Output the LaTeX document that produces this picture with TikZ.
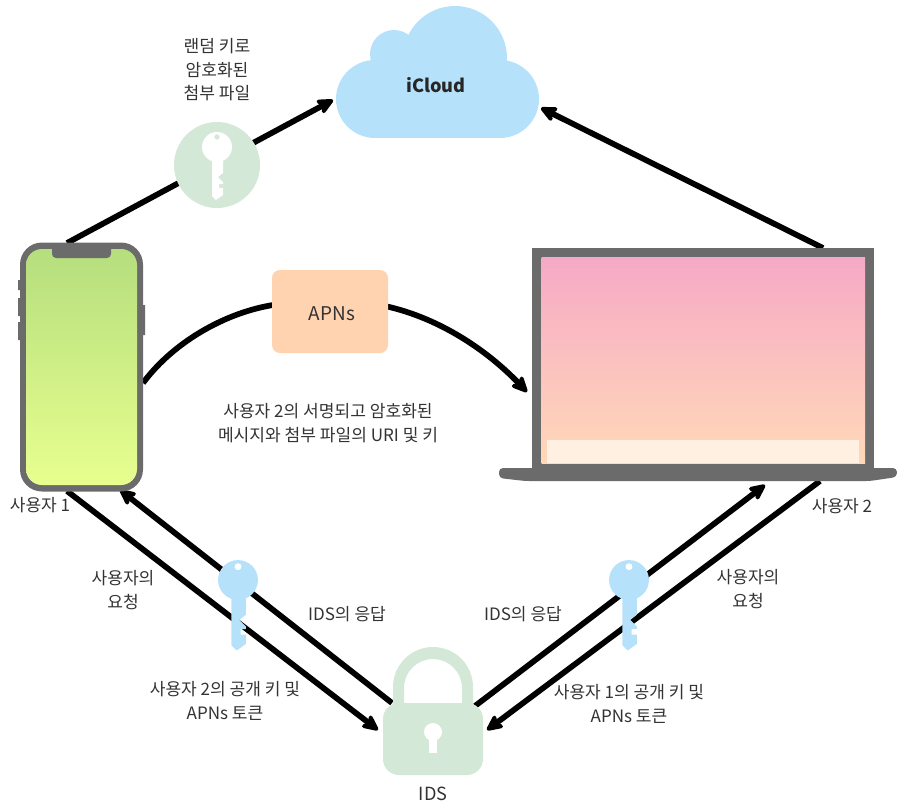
\documentclass[tikz,border=0pt]{standalone}
\usepackage{fontspec}
\setmainfont{Noto Sans CJK KR}
\usetikzlibrary{arrows.meta}
\definecolor{devgray}{HTML}{6B6B6B}
\definecolor{softgreen}{HTML}{D3E8D6}
\definecolor{softblue}{HTML}{B5E1FA}
\definecolor{softorange}{HTML}{FFD3B0}
\definecolor{labelgray}{HTML}{333333}
\definecolor{phonetop}{HTML}{B5DE7E}
\definecolor{phonebot}{HTML}{E8FF8F}
\definecolor{laptoptop}{HTML}{F6A9C6}
\definecolor{laptopbot}{HTML}{FFD9B8}
\definecolor{laptopbar}{HTML}{FFF0E2}
\tikzset{
  conn/.style={line width=4.3pt,black},
  arrowconn/.style={conn,-{Stealth[length=15pt,width=14pt,inset=3.5pt,round]}},
  lbl/.style={text=labelgray,font=\fontsize{12.8}{17.6}\selectfont,align=center,inner sep=0pt},
  box/.style={inner sep=0pt,outer sep=0pt,draw=none},
  pics/keyicon/.style 2 args={code={
    \fill[#1] (0,0) circle (15);
    \fill[#1] (-5,5) -- (6,5) -- (6,26) -- (1,30) -- (6,35) -- (6,37) -- (2,37) -- (2,41) -- (6,41) -- (6,48) -- (-1,53) -- (-5,49) -- cycle;
    \fill[#2] (0,-10) circle (2.6);
  }}
}
\begin{document}
\begin{tikzpicture}[x=0.75pt,y=-0.75pt]
\useasboundingbox (0,0) rectangle (897,804);
% anchors of connectors
\coordinate (phoneTop) at (67,243);
\coordinate (cloudLeft) at (333,100);
\coordinate (cloudRight) at (541,108);
\coordinate (laptopTop) at (823,248);
\coordinate (phoneSide) at (143,383);
\coordinate (apnsIn) at (280,304);
\coordinate (apnsOut) at (380,305);
\coordinate (laptopSide) at (527,392);
\coordinate (phoneBotA) at (67,491);
\coordinate (phoneBotB) at (120,490);
\coordinate (idsLeftIn) at (378,730);
\coordinate (idsLeftOut) at (392,703);
\coordinate (idsRightOut) at (475,706);
\coordinate (idsRightIn) at (487,730);
\coordinate (laptopBotA) at (765,485);
\coordinate (laptopBotB) at (820,481);
% connectors
\draw[arrowconn] (phoneTop) -- (cloudLeft);
\draw[arrowconn] (laptopTop) -- (cloudRight);
\draw[conn] (phoneSide) .. controls (175,340) and (230,310) .. (apnsIn);
\draw[arrowconn] (apnsOut) .. controls (437,316) and (487,350) .. (laptopSide);
\draw[arrowconn] (phoneBotA) -- (idsLeftIn);
\draw[arrowconn] (idsLeftOut) -- (phoneBotB);
\draw[arrowconn] (idsRightOut) -- (laptopBotA);
\draw[arrowconn] (laptopBotB) -- (idsRightIn);
% cloud
\fill[softblue] (375,99) circle (39) (500,99) circle (39) (455,58) circle (52) (394,54) circle (24);
\fill[softblue] (375,60) rectangle (500,138);
\node[lbl,font=\fontsize{13.6}{16}\selectfont\bfseries,text=black!85] (icloud) at (436,85) {iCloud};
% phone
\fill[devgray] (18,280) rectangle (21,290) (18,298) rectangle (21,316) (18,322) rectangle (21,340) (142,305) rectangle (145,335);
\node[box,fill=devgray,rounded corners=16.5pt,minimum width=92.25pt,minimum height=186.75pt] (phone) at (81.5,367) {};
\shade[top color=phonetop,bottom color=phonebot,rounded corners=12pt] (26,249) rectangle (137,485);
\fill[devgray,rounded corners=3pt] (52,245) rectangle (111,258);
% laptop
\fill[devgray] (532,248) rectangle (874,470);
\shade[top color=laptoptop,bottom color=laptopbot] (541.5,257) rectangle (865,463);
\fill[laptopbar] (547,440) rectangle (859,463);
\fill[devgray,rounded corners=3pt] (499,468) -- (897,468) -- (897,477) -- (870,481) -- (525,481) -- (499,478) -- cycle;
\node[box,minimum width=1pt,minimum height=1pt] (laptop) at (703,365) {};
% APNs
\node[box,fill=softorange,rounded corners=6pt,minimum width=87pt,minimum height=62.25pt] (apns) at (330,311.5) {};
\node[lbl,font=\fontsize{14.2}{17}\selectfont] (apnslabel) at (332,314) {APNs};
% attachment key
\node[box,fill=softgreen,circle,minimum size=64.5pt] (keyA) at (217,165) {};
\pic at (217,147) {keyicon={white}{softgreen}};
% public keys
\pic[scale=1.33] at (238,580) {keyicon={softblue}{white}};
\pic[scale=1.33] at (629,580) {keyicon={softblue}{white}};
% lock
\fill[softgreen] (393,710) -- (393,687) arc[start angle=180,end angle=360,x radius=40,y radius=40] -- (473,710) -- (462,710) -- (462,688) arc[start angle=360,end angle=180,x radius=29,y radius=29] -- (404,710) -- cycle;
\node[box,fill=softgreen,rounded corners=12pt,minimum width=75pt,minimum height=54pt] (lock) at (433,739) {};
\fill[white] (433,732) circle (9);
\fill[white] (429,735) rectangle (437,753);
% labels
\node[lbl] (t1) at (217,70) {랜덤 키로\\암호화된\\첨부 파일};
\node[lbl] (t2) at (328,423) {사용자 2의 서명되고 암호화된\\메시지와 첨부 파일의 URI 및 키};
\node[lbl] (t3) at (40,505) {사용자 1};
\node[lbl] (t4) at (842,506) {사용자 2};
\node[lbl] (t5) at (123,590) {사용자의\\요청};
\node[lbl] (t6) at (748,589) {사용자의\\요청};
\node[lbl] (t7) at (347,614) {IDS의 응답};
\node[lbl] (t8) at (523,614) {IDS의 응답};
\node[lbl] (t9) at (225,701) {사용자 2의 공개 키 및\\APNs 토큰};
\node[lbl] (t10) at (629,704) {사용자 1의 공개 키 및\\APNs 토큰};
\node[lbl,font=\fontsize{13.6}{17}\selectfont] (t11) at (433,794) {IDS};
\end{tikzpicture}
\end{document}
